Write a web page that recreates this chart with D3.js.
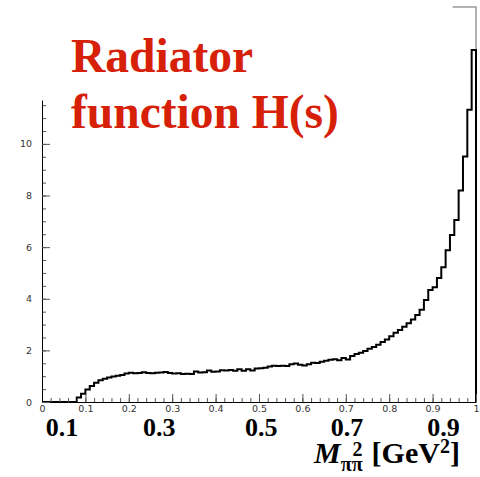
<!DOCTYPE html>
<html>
<head>
<meta charset="utf-8">
<script src="https://cdn.jsdelivr.net/npm/d3@7"></script>
<style>
  body { margin: 0; background: #fff; }
  svg { display: block; }
  .tick text { font-family: "DejaVu Sans", "Liberation Sans", sans-serif; font-size: 9.5px; fill: #333; }
  .tick line { stroke: #555; }
  .domain { stroke: #000; }
</style>
</head>
<body>
<svg id="chart" width="480" height="477"></svg>
<script>
// histogram: 100 bins of width 0.01 on [0, 1]
const binWidth = 0.01
const binValues = [
  0, 0, 0, 0, 0, 0, 0, 0, 0.17, 0.32,
  0.48, 0.62, 0.75, 0.84, 0.90, 0.95, 0.99, 1.02, 1.05, 1.10,
  1.13, 1.11, 1.12, 1.15, 1.12, 1.11, 1.13, 1.14, 1.16, 1.12,
  1.10, 1.11, 1.08, 1.09, 1.08, 1.18, 1.14, 1.15, 1.22, 1.17,
  1.18, 1.23, 1.22, 1.24, 1.21, 1.27, 1.21, 1.27, 1.22, 1.30,
  1.31, 1.33, 1.38, 1.40, 1.39, 1.40, 1.39, 1.46, 1.49, 1.44,
  1.41, 1.46, 1.52, 1.51, 1.56, 1.60, 1.64, 1.66, 1.62, 1.70,
  1.65, 1.78, 1.86, 1.91, 1.98, 2.06, 2.13, 2.22, 2.32, 2.42,
  2.55, 2.68, 2.79, 2.92, 3.05, 3.20, 3.37, 3.57, 3.95, 4.34,
  4.45, 4.80, 5.22, 5.88, 6.47, 7.05, 8.19, 9.51, 11.32, 13.64
]

const xMajor = d3.range(0, 11).map(i => i / 10)
const xMinor = d3.range(0, 51).map(i => i / 50)
const yMajor = [0, 2, 4, 6, 8, 10]
const yMinor = d3.range(0, 24).map(i => i / 2)

// big overlaid labels under the axis (data units of their centers)
const bigLabels = ['0.1', '0.3', '0.5', '0.7', '0.9']
const bigLabelPos = [0.046, 0.27, 0.505, 0.703, 0.925]

const titleLines = ['Radiator', 'function H(s)']

const svg = d3.select('#chart')

const x = d3.scaleLinear().domain([0, 1]).range([42, 476])
const y = d3.scaleLinear().domain([0, 11.7]).range([402, 100])

// histogram outline
const pts = binValues.map((v, i) => [i * binWidth, v])
pts.push([1, binValues[binValues.length - 1]])
pts.push([1, 0])

const line = d3.line()
    .x(d => x(d[0]))
    .y(d => y(Math.max(d[1], 0)))
    .curve(d3.curveStepAfter)

// grey pad frame piece top right
svg.append('path')
    .attr('d', `M${x(0.946)},${y(15.3)}H${x(1)}V${y(13.64)}`)
    .attr('fill', 'none')
    .attr('stroke', '#999')
    .attr('stroke-width', 1.5)

svg.append('path')
    .datum(pts)
    .attr('d', line)
    .attr('fill', 'none')
    .attr('stroke', '#000')
    .attr('stroke-width', 2)

// axes
svg.append('g')
    .attr('transform', `translate(0,${y(0)})`)
    .call(d3.axisBottom(x).tickValues(xMinor).tickSize(-4).tickSizeOuter(0).tickFormat(''))
    .call(g => g.select('.domain').remove())

svg.append('g')
    .attr('transform', `translate(0,${y(0)})`)
    .call(d3.axisBottom(x).tickValues(xMajor).tickSize(-8).tickSizeOuter(0)
        .tickPadding(3).tickFormat(d3.format('~g')))
    .call(g => g.select('.domain').attr('stroke-width', 1))

svg.append('g')
    .attr('transform', `translate(${x(0)},0)`)
    .call(d3.axisLeft(y).tickValues(yMinor).tickSize(-4).tickSizeOuter(0).tickFormat(''))
    .call(g => g.select('.domain').remove())

svg.append('g')
    .attr('transform', `translate(${x(0)},0)`)
    .call(d3.axisLeft(y).tickValues(yMajor).tickSize(-8).tickSizeOuter(0).tickPadding(10))

// big bold labels
svg.selectAll('text.big').data(bigLabels).enter()
    .append('text')
    .attr('class', 'big')
    .attr('x', (d, i) => x(bigLabelPos[i]))
    .attr('y', 436)
    .attr('text-anchor', 'middle')
    .attr('font-family', '"Liberation Serif", "Times New Roman", serif')
    .attr('font-weight', 'bold')
    .attr('font-size', 26)
    .text(d => d)

// axis title
const at = svg.append('text')
    .attr('x', 314)
    .attr('y', 463)
    .attr('font-family', '"Liberation Serif", "Times New Roman", serif')
    .attr('font-weight', 'bold')
    .attr('font-size', 30)
at.append('tspan').attr('font-style', 'italic').text('M')
at.append('tspan').attr('font-size', 20).attr('dy', 8).text('ππ')
at.append('tspan').attr('font-size', 20).attr('dx', -10).attr('dy', -15).text('2')
at.append('tspan').attr('dx', 9).attr('dy', 7).text('[GeV')
at.append('tspan').attr('font-size', 20).attr('dy', -10).text('2')
at.append('tspan').attr('dy', 10).text(']')

// title
svg.selectAll('text.title').data(titleLines).enter()
    .append('text')
    .attr('class', 'title')
    .attr('x', 71)
    .attr('y', (d, i) => 72 + i * 56)
    .attr('font-family', '"Liberation Serif", "Times New Roman", serif')
    .attr('font-weight', 'bold')
    .attr('font-size', 47.5)
    .attr('fill', '#d62008')
    .text(d => d)
</script>
</body>
</html>
